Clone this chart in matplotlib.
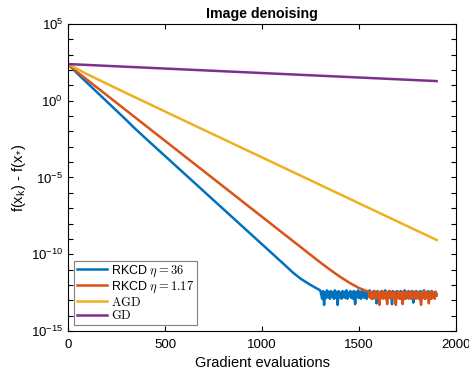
import matplotlib
matplotlib.use("Agg")
import matplotlib.pyplot as plt
import numpy as np

plt.rcParams['font.family'] = ['Liberation Sans', 'DejaVu Sans']
plt.rcParams['mathtext.fontset'] = 'cm'

# log10(f(x_k) - f(x_*))
blue_x = [0, 50, 100, 150, 200, 250, 300, 340, 400, 500, 600, 700, 800, 900,
          1000, 1100, 1160, 1200, 1250, 1300]
blue_y = [2.39, 1.75, 1.15, 0.55, -0.05, -0.65, -1.25, -1.75, -2.45, -3.6, -4.75, -5.9,
          -7.05, -8.2, -9.35, -10.5, -11.2, -11.6, -12.0, -12.35]
blue_tail = [
    -12.6, -12.9, -12.4, -13.3, -12.5, -12.85, -12.35, -12.8, -12.45, -12.9,
    -12.4, -12.75, -12.5, -12.9, -12.35, -12.85, -12.45, -13.3, -12.4, -12.8,
    -12.5, -12.9, -12.4, -12.8, -12.45, -12.85, -12.35, -12.9, -12.5, -12.75,
    -12.4, -12.85, -12.45, -12.9, -12.4, -13.25, -12.5, -12.8, -12.35, -12.85,
    -12.45, -12.9, -12.4, -12.8, -12.5, -12.85, -12.4, -12.9, -12.45, -12.75,
    -12.35, -12.85, -12.5, -12.9, -12.4, -12.8, -12.45, -13.2, -12.4, -12.85,
    -12.5, -12.9, -12.4, -12.8, -12.45, -12.85, -12.35, -12.9, -12.5, -12.8,
    -12.4, -12.85, -12.45, -13.25, -12.4, -12.8, -12.5, -12.9, -12.4, -12.85,
    -12.45, -12.9, -12.4, -12.8, -12.5, -12.85, -12.35, -12.9, -12.45, -12.8,
    -12.4, -12.85, -12.5, -12.9, -12.4, -13.15, -12.45, -12.85, -12.4, -12.8,
    -12.5, -12.9, -12.4, -12.85, -12.45, -12.8, -12.35, -12.9, -12.5, -12.85,
    -12.4, -12.8, -12.45, -12.9, -12.4, -12.85, -12.5, -12.8, -12.45, -12.6]

orange_x = [0, 50, 100, 200, 300, 400, 500, 600, 700, 800, 900, 1000, 1100, 1200,
            1300, 1350, 1400, 1450, 1500, 1550]
orange_y = [2.39, 1.85, 1.35, 0.36, -0.63, -1.62, -2.61, -3.6, -4.59, -5.58, -6.57,
            -7.56, -8.55, -9.54, -10.53, -11.0, -11.45, -11.85, -12.2, -12.45]
orange_tail = [
    -12.8, -12.45, -12.9, -12.5, -12.85, -12.4, -12.9, -12.5, -12.8, -12.45,
    -13.3, -12.5, -12.85, -12.4, -12.9, -12.5, -12.8, -12.45, -13.25, -12.5,
    -12.85, -12.4, -12.9, -12.5, -12.85, -12.45, -12.9, -13.3, -12.5, -12.8,
    -12.45, -12.9, -12.5, -12.85, -13.25, -12.4, -12.9, -12.5, -12.8, -12.45,
    -12.9, -12.5, -12.85, -12.4, -12.9, -12.5, -12.85, -12.45, -12.9, -12.5,
    -12.8, -12.45, -12.9, -13.3, -12.5, -12.85, -12.4, -12.9, -12.5, -12.85,
    -12.45, -13.2, -12.5, -12.9, -12.45, -12.85, -12.5, -12.9, -12.45, -12.7]

agd_x = [0, 100, 300, 665, 1000, 1500, 1900]
agd_y = [2.39, 1.72, 0.5, -1.69, -3.69, -6.68, -9.07]

gd_x = [0, 665, 1900]
gd_y = [2.39, 2.0, 1.28]

tail_step = 5

bx = np.concatenate([blue_x, blue_x[-1] + tail_step * np.arange(1, len(blue_tail) + 1)])
by = np.concatenate([blue_y, blue_tail])
ox = np.concatenate([orange_x, orange_x[-1] + tail_step * np.arange(1, len(orange_tail) + 1)])
oy = np.concatenate([orange_y, orange_tail])

fig = plt.figure(figsize=(4.69, 3.73), dpi=100)
ax = fig.add_axes([0.145, 0.1126, 0.8273, 0.8231])

lw = 1.8
ax.plot(bx, 10.0 ** by, color='#0072BD', lw=lw, label=r'RKCD $\eta=36$')
ax.plot(ox, 10.0 ** oy, color='#D95319', lw=lw, label=r'RKCD $\eta=1.17$')
ax.plot(agd_x, 10.0 ** np.array(agd_y), color='#EDB120', lw=lw, label=r'$\mathrm{AGD}$')
ax.plot(gd_x, 10.0 ** np.array(gd_y), color='#7E2F8E', lw=lw, label=r'$\mathrm{GD}$')

ax.set_yscale('log')
ax.set_xlim(0, 2000)
ax.set_ylim(1e-15, 1e5)
ax.set_xticks([0, 500, 1000, 1500, 2000])
ax.set_yticks([10.0 ** k for k in range(-15, 6)])
ax.set_yticklabels([r'$\mathdefault{10^{%d}}$' % k if k % 5 == 0 else '' for k in range(-15, 6)])
ax.yaxis.set_minor_locator(matplotlib.ticker.NullLocator())
ax.tick_params(direction='in', top=True, right=True, labelsize=9.5, length=3.5, width=0.8)
ax.tick_params(axis='x', pad=6)
for s in ax.spines.values():
    s.set_linewidth(0.8)

ax.set_xlabel('Gradient evaluations', fontsize=10.5, labelpad=3)
ax.set_ylabel(r'f(x$_\mathregular{k}$) - f(x$_\mathregular{*}$)', fontsize=10.5, labelpad=2)
ax.set_title('Image denoising', fontsize=10.2, fontweight='bold', pad=4)

leg = ax.legend(loc='lower left', fontsize=9, frameon=True, fancybox=False,
                edgecolor='#808080', framealpha=1, handlelength=2.4, handletextpad=0.3,
                borderpad=0.25, labelspacing=0.05, borderaxespad=0.45)
leg.get_frame().set_linewidth(0.8)

fig.savefig('out.png', dpi=100)
